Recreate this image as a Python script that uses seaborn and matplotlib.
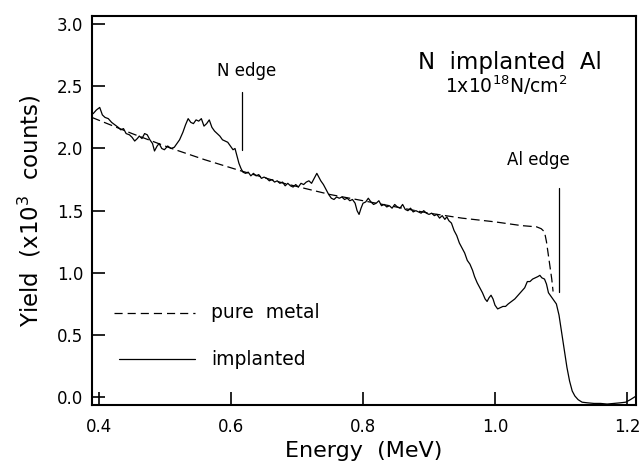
import numpy as np
import pandas as pd
import matplotlib
matplotlib.use("Agg")
import matplotlib.pyplot as plt
import seaborn as sns

# ---- data ----
energy_implanted = [0.391, 0.396, 0.401, 0.405, 0.409, 0.414, 0.419, 0.424, 0.429, 0.433, 0.437, 0.441,
    0.446, 0.450, 0.454, 0.458, 0.461, 0.465, 0.469, 0.473, 0.477, 0.481, 0.484, 0.488, 0.491, 0.495,
    0.499, 0.504, 0.509, 0.514, 0.518, 0.522, 0.527, 0.531, 0.535, 0.539, 0.543, 0.547, 0.551, 0.555,
    0.559, 0.563, 0.567, 0.571, 0.575, 0.579, 0.583, 0.587, 0.591, 0.595, 0.599, 0.603, 0.606, 0.609,
    0.612, 0.615, 0.618, 0.622, 0.626, 0.630, 0.634, 0.638, 0.642, 0.646, 0.650, 0.654, 0.658, 0.662,
    0.666, 0.670, 0.674, 0.678, 0.682, 0.686, 0.690, 0.694, 0.698, 0.702, 0.706, 0.710, 0.714, 0.718,
    0.722, 0.726, 0.730, 0.733, 0.736, 0.740, 0.744, 0.748, 0.752, 0.756, 0.760, 0.764, 0.768, 0.772,
    0.776, 0.780, 0.784, 0.788, 0.791, 0.794, 0.797, 0.800, 0.804, 0.808, 0.812, 0.816, 0.820, 0.824,
    0.828, 0.832, 0.836, 0.840, 0.844, 0.848, 0.852, 0.856, 0.860, 0.864, 0.868, 0.872, 0.876, 0.880,
    0.884, 0.888, 0.892, 0.896, 0.900, 0.904, 0.908, 0.912, 0.916, 0.920, 0.924, 0.927, 0.930, 0.934,
    0.938, 0.942, 0.946, 0.950, 0.954, 0.958, 0.962, 0.966, 0.969, 0.973, 0.977, 0.981, 0.985, 0.988,
    0.991, 0.994, 0.997, 1.000, 1.004, 1.008, 1.012, 1.016, 1.020, 1.025, 1.030, 1.035, 1.040, 1.045,
    1.049, 1.053, 1.057, 1.061, 1.065, 1.068, 1.071, 1.075, 1.078, 1.081, 1.085, 1.089, 1.093, 1.097,
    1.101, 1.105, 1.109, 1.113, 1.117, 1.121, 1.126, 1.132, 1.140, 1.150, 1.160, 1.170, 1.180, 1.190,
    1.198, 1.205, 1.214]
yield_implanted = [2.28, 2.31, 2.33, 2.27, 2.25, 2.24, 2.21, 2.19, 2.17, 2.15, 2.16, 2.12,
    2.11, 2.09, 2.06, 2.08, 2.10, 2.08, 2.12, 2.11, 2.07, 2.04, 1.98, 2.02, 2.04, 2.00,
    1.99, 2.02, 2.00, 2.01, 2.04, 2.07, 2.13, 2.19, 2.24, 2.21, 2.20, 2.23, 2.22, 2.24,
    2.18, 2.20, 2.23, 2.17, 2.14, 2.12, 2.10, 2.07, 2.06, 2.05, 2.02, 1.99, 2.00, 1.94,
    1.88, 1.84, 1.81, 1.80, 1.81, 1.78, 1.80, 1.78, 1.79, 1.76, 1.77, 1.76, 1.74, 1.75,
    1.73, 1.74, 1.72, 1.73, 1.70, 1.72, 1.70, 1.69, 1.71, 1.69, 1.72, 1.71, 1.73, 1.74,
    1.72, 1.76, 1.80, 1.77, 1.74, 1.71, 1.67, 1.63, 1.60, 1.59, 1.61, 1.60, 1.61, 1.59,
    1.60, 1.58, 1.59, 1.56, 1.50, 1.47, 1.52, 1.56, 1.57, 1.60, 1.57, 1.55, 1.56, 1.58,
    1.54, 1.55, 1.53, 1.54, 1.52, 1.55, 1.53, 1.52, 1.55, 1.51, 1.50, 1.52, 1.49, 1.50,
    1.49, 1.48, 1.50, 1.48, 1.47, 1.48, 1.46, 1.47, 1.44, 1.46, 1.43, 1.45, 1.42, 1.40,
    1.34, 1.30, 1.24, 1.20, 1.16, 1.10, 1.07, 1.02, 0.97, 0.92, 0.88, 0.84, 0.79, 0.77,
    0.80, 0.82, 0.79, 0.74, 0.71, 0.72, 0.73, 0.73, 0.75, 0.77, 0.79, 0.82, 0.85, 0.88,
    0.93, 0.93, 0.95, 0.96, 0.97, 0.98, 0.96, 0.95, 0.91, 0.84, 0.81, 0.78, 0.75, 0.66,
    0.52, 0.38, 0.24, 0.13, 0.05, 0.01, -0.02, -0.04, -0.045, -0.05, -0.05, -0.055, -0.05, -0.045,
    -0.04, -0.02, 0.01]

energy_pure = [0.389, 0.45, 0.51, 0.56, 0.615, 0.68, 0.75, 0.80, 0.85, 0.90, 0.95, 1.00,
    1.04, 1.063, 1.070, 1.075, 1.078, 1.082, 1.086, 1.088]
yield_pure = [2.25, 2.12, 2.00, 1.91, 1.82, 1.72, 1.63, 1.58, 1.53, 1.48, 1.44, 1.41,
    1.38, 1.37, 1.355, 1.33, 1.25, 1.10, 0.95, 0.85]

x_ticks = [0.4, 0.6, 0.8, 1.0, 1.2]
y_ticks = [0.0, 0.5, 1.0, 1.5, 2.0, 2.5, 3.0]

# ---- style ----
sns.set_theme(style="ticks")
plt.rcParams["font.family"] = ["DejaVu Sans"]
plt.rcParams["mathtext.default"] = "regular"
plt.rcParams["text.color"] = "black"
plt.rcParams["axes.labelcolor"] = "black"

fig = plt.figure(figsize=(6.42, 4.62), dpi=100)
ax = fig.add_axes([0.143, 0.123, 0.848, 0.842])

sns.lineplot(x=energy_pure, y=yield_pure, ax=ax, color="black", lw=0.9,
             sort=False, estimator=None)
ax.lines[-1].set_dashes((7, 3.5))
sns.lineplot(x=energy_implanted, y=yield_implanted, ax=ax, color="black", lw=0.9,
             sort=False, estimator=None)

ax.set_xlim(0.389, 1.214)
ax.set_ylim(-0.064, 3.064)
ax.set_xticks(x_ticks)
ax.set_yticks(y_ticks)
ax.set_xticklabels([f"{v:.1f}" for v in x_ticks])
ax.set_yticklabels([f"{v:.1f}" for v in y_ticks])
ax.tick_params(direction="in", length=9.5, width=1.2, labelsize=12,
               colors="black", labelcolor="black")
ax.tick_params(axis="x", pad=9)
ax.tick_params(axis="y", pad=6)
for s in ax.spines.values():
    s.set_linewidth(1.5)
    s.set_color("black")

ax.set_xlabel("Energy  (MeV)", fontsize=16, labelpad=4, color="black")
ax.set_ylabel("Yield  (x10$^3$  counts)", fontsize=16.5, labelpad=10, color="black")

# annotations
ax.text(1.162, 2.69, "N  implanted  Al", fontsize=16.5, ha="right", va="center", color="black")
ax.text(1.017, 2.51, "1x10$^{18}$N/cm$^2$", fontsize=13.5, ha="center", va="center", color="black")
ax.text(0.624, 2.62, "N edge", fontsize=12, ha="center", va="center", color="black")
ax.plot([0.617, 0.617], [1.99, 2.456], color="black", lw=0.9)
ax.text(1.065, 1.905, "Al edge", fontsize=12, ha="center", va="center", color="black")
ax.plot([1.097, 1.097], [0.847, 1.68], color="black", lw=0.9)

# legend drawn by hand
ax.plot([0.422, 0.546], [0.678, 0.678], color="black", lw=0.9, dashes=(6.5, 4))
ax.text(0.57, 0.678, "pure  metal", fontsize=13.5, ha="left", va="center", color="black")
ax.plot([0.43, 0.546], [0.306, 0.306], color="black", lw=0.9)
ax.text(0.57, 0.306, "implanted", fontsize=13.5, ha="left", va="center", color="black")

fig.savefig("out.png", dpi=100, facecolor="white")
